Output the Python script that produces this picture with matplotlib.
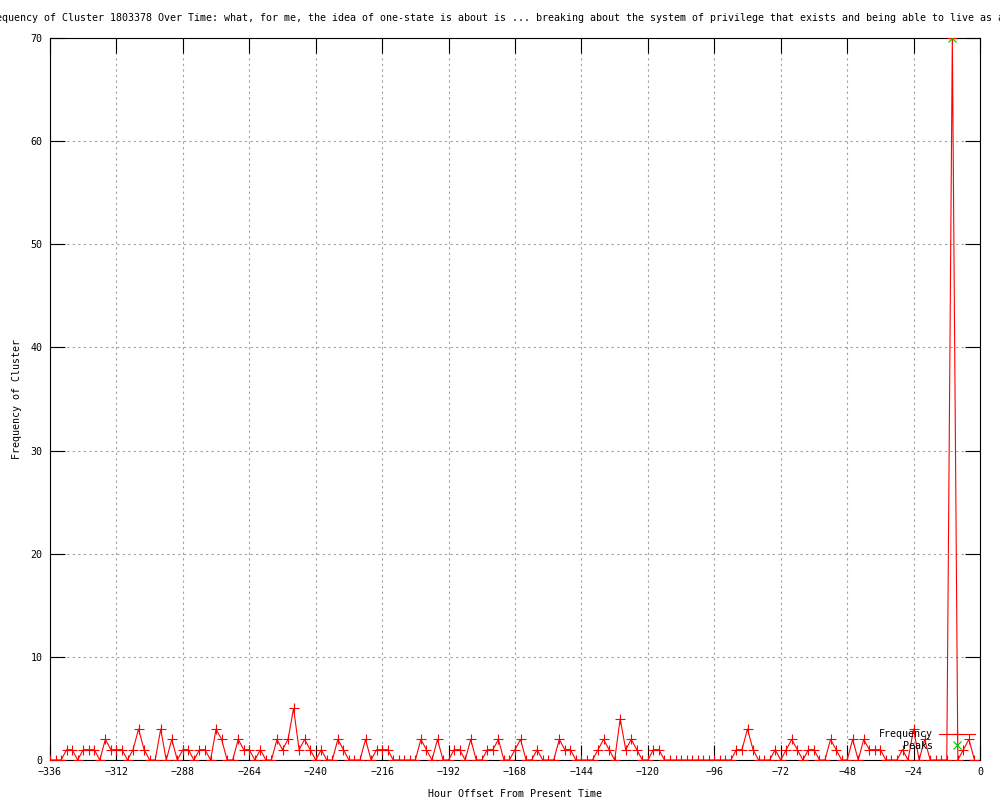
import numpy as np
import matplotlib
matplotlib.use("Agg")
import matplotlib.pyplot as plt

# hour offsets, one sample every 2 hours
hours = np.arange(-336, 0, 2)

freq = [
    # -336 .. -282
    0, 0, 0, 1, 1, 0, 1, 1, 1, 0, 2, 1, 1, 1, 0, 1, 3, 1, 0, 0, 3, 0, 2, 0, 1, 1, 0, 1,
    # -280 .. -228
    1, 0, 3, 2, 0, 0, 2, 1, 1, 0, 1, 0, 0, 2, 1, 2, 5, 1, 2, 1, 0, 1, 0, 0, 2, 1, 0,
    # -226 .. -174
    0, 0, 2, 0, 1, 1, 1, 0, 0, 0, 0, 0, 2, 1, 0, 2, 0, 0, 1, 1, 0, 2, 0, 0, 1, 1, 2,
    # -172 .. -120
    0, 0, 1, 2, 0, 0, 1, 0, 0, 0, 2, 1, 1, 0, 0, 0, 0, 1, 2, 1, 0, 4, 1, 2, 1, 0, 0,
    # -118 .. -66
    1, 1, 0, 0, 0, 0, 0, 0, 0, 0, 0, 0, 0, 0, 0, 1, 1, 3, 1, 0, 0, 0, 1, 0, 1, 2, 1,
    # -64 .. -2
    0, 1, 1, 0, 0, 2, 1, 0, 0, 2, 0, 2, 1, 1, 1, 0, 0, 0, 1, 0, 3, 0, 2, 0, 0, 0, 0, 70, 0, 1, 2, 0,
]

peak_hours = [-10]
peak_vals = [70]

x_ticks = list(range(-336, 1, 24))
y_ticks = list(range(0, 71, 10))

title = ("Frequency of Cluster 1803378 Over Time: what, for me, the idea of one-state "
         "is about is ... breaking about the system of privilege that exists and being able to live as a")

plt.rcParams['font.family'] = ['DejaVu Sans Mono']
plt.rcParams['font.size'] = 7.2

fig = plt.figure(figsize=(10, 8), dpi=100)
ax = fig.add_axes([0.05, 0.05, 0.93, 0.9025])

ax.plot(hours, freq, color='#ff0000', lw=0.8, marker='+', ms=7, mew=0.8,
        label='Frequency', zorder=3)
ax.plot(peak_hours, peak_vals, ls='none', color='#00c000', marker='x', ms=6,
        mew=0.8, label='Peaks', zorder=4)

ax.set_xlim(-336, 0)
ax.set_ylim(0, 70)
ax.set_xticks(x_ticks)
ax.set_yticks(y_ticks)
ax.tick_params(direction='in', length=11, width=0.8, top=True, right=True,
               colors='black')
ax.tick_params(axis='x', pad=5)
ax.tick_params(axis='y', pad=5.5)
ax.grid(True, color='#a0a0a0', lw=0.8, ls=(0, (2, 3)))
for s in ax.spines.values():
    s.set_linewidth(0.8)

ax.set_xlabel('Hour Offset From Present Time', labelpad=9)
ax.set_ylabel('Frequency of Cluster', labelpad=6)

# gnuplot centres the long title, so both ends fall outside the image
fig.text(-0.016, 0.9775, title, ha='left', va='center')

ax.legend(loc='lower right', bbox_to_anchor=(0.995, 0.013), frameon=False,
          markerfirst=False, handlelength=3.6, handletextpad=0.6,
          labelspacing=0.15, borderpad=0, borderaxespad=0)

fig.savefig('out.png', dpi=100)
